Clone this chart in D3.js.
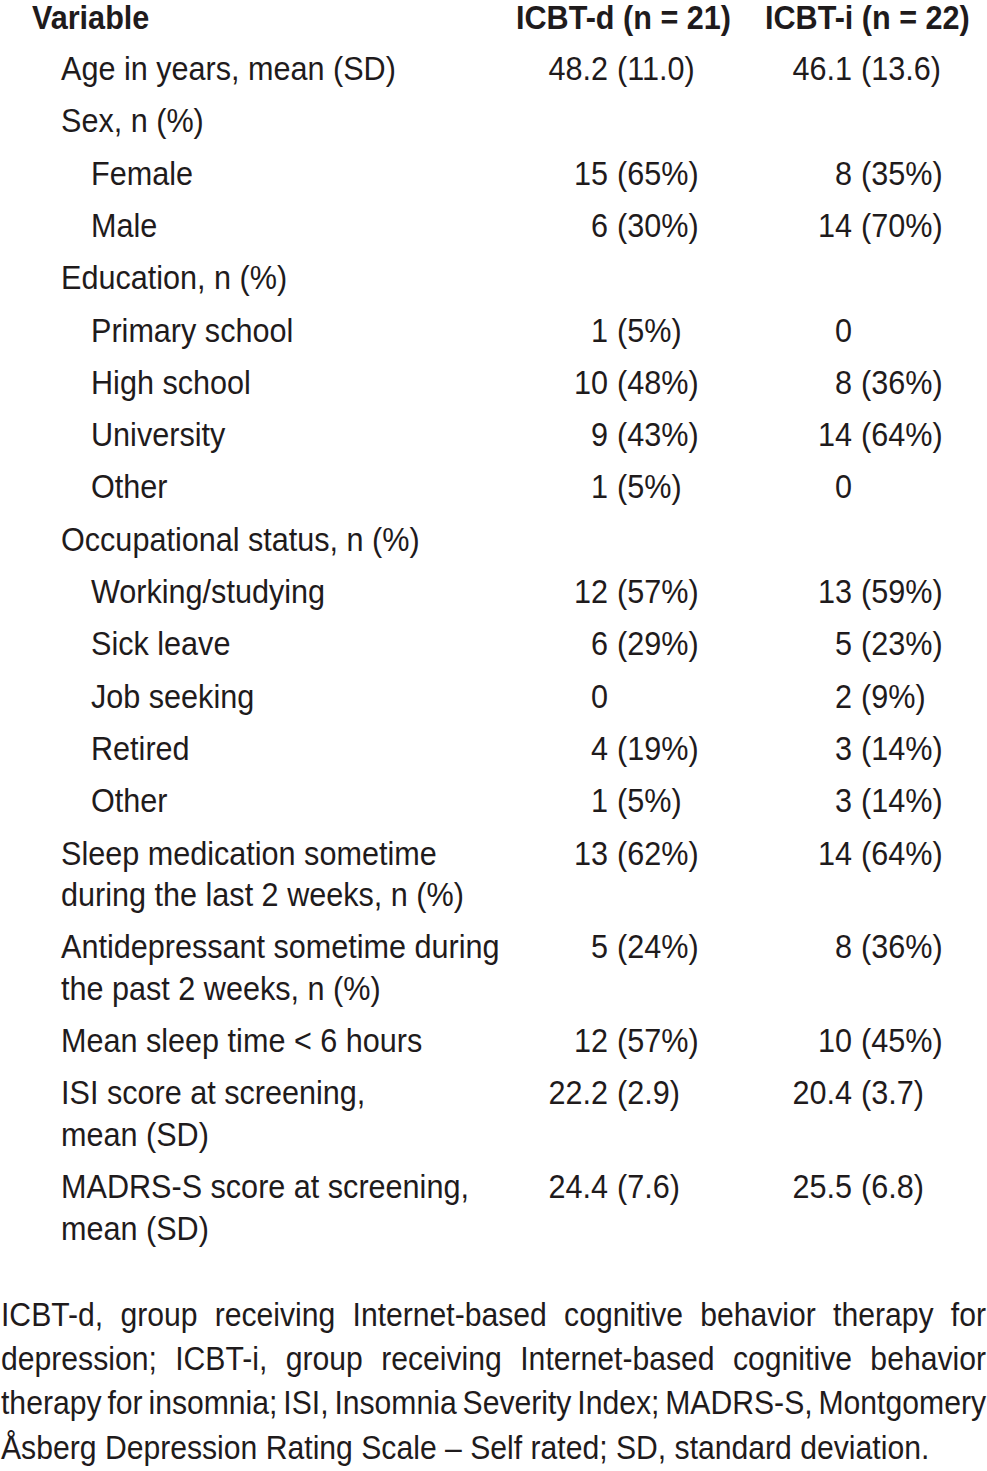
<!DOCTYPE html>
<html>
<head>
<meta charset="utf-8">
<script src="https://cdnjs.cloudflare.com/ajax/libs/d3/7.8.5/d3.min.js"></script>
<style>
  html, body { margin: 0; padding: 0; background: #fff; }
  svg { display: block; }
  text { font-family: "Liberation Sans", Arial, sans-serif; fill: #1f1b1c; }
</style>
</head>
<body>
<div id="table"></div>
<script>
// header
var headers = ['Variable', 'ICBT-d (n = 21)', 'ICBT-i (n = 22)']

// row labels (one entry per printed line) and indent level
var rowLabels = [
  ['Age in years, mean (SD)'],
  ['Sex, n (%)'],
  ['Female'],
  ['Male'],
  ['Education, n (%)'],
  ['Primary school'],
  ['High school'],
  ['University'],
  ['Other'],
  ['Occupational status, n (%)'],
  ['Working/studying'],
  ['Sick leave'],
  ['Job seeking'],
  ['Retired'],
  ['Other'],
  ['Sleep medication sometime', 'during the last 2 weeks, n (%)'],
  ['Antidepressant sometime during', 'the past 2 weeks, n (%)'],
  ['Mean sleep time < 6 hours'],
  ['ISI score at screening,', 'mean (SD)'],
  ['MADRS-S score at screening,', 'mean (SD)']
]
var rowLevels = [0, 0, 1, 1, 0, 1, 1, 1, 1, 0, 1, 1, 1, 1, 1, 0, 0, 0, 0, 0]

var icbtD = ['48.2 (11.0)', '', '15 (65%)', '6 (30%)', '', '1 (5%)', '10 (48%)', '9 (43%)', '1 (5%)', '',
  '12 (57%)', '6 (29%)', '0', '4 (19%)', '1 (5%)', '13 (62%)', '5 (24%)', '12 (57%)', '22.2 (2.9)', '24.4 (7.6)']
var icbtI = ['46.1 (13.6)', '', '8 (35%)', '14 (70%)', '', '0', '8 (36%)', '14 (64%)', '0', '',
  '13 (59%)', '5 (23%)', '2 (9%)', '3 (14%)', '3 (14%)', '14 (64%)', '8 (36%)', '10 (45%)', '20.4 (3.7)', '25.5 (6.8)']

var footLines = [
  'ICBT-d, group receiving Internet-based cognitive behavior therapy for',
  'depression; ICBT-i, group receiving Internet-based cognitive behavior',
  'therapy for insomnia; ISI, Insomnia Severity Index; MADRS-S, Montgomery',
  'Åsberg Depression Rating Scale – Self rated; SD, standard deviation.'
]

;(function (d3) {
  var W = 987, H = 1471
  var fontSize = 34, footSize = 33.5, sx = 0.9
  var rowStep = 52.3, lineStep = 41.5
  var headY = 29, firstY = 80
  var indent = [61, 91]
  // value columns: number right edge / bracket start
  var cols = [{ numEnd: 608, rest: 617 }, { numEnd: 852, rest: 861 }]

  var svg = d3.select('#table').append('svg')
    .attr('width', W).attr('height', H)
  svg.append('rect').attr('width', W).attr('height', H).attr('fill', '#fff')

  function put (g, str, x, y, anchor, size, weight) {
    return g.append('text')
      .attr('transform', 'translate(' + x + ',' + y + ') scale(' + sx + ',1)')
      .attr('text-anchor', anchor || 'start')
      .attr('font-size', size || fontSize)
      .attr('font-weight', weight || 'normal')
      .text(str)
  }

  // row baselines
  var rowY = []
  var y = firstY
  rowLabels.forEach(function (lines) {
    rowY.push(y)
    y += rowStep + (lines.length - 1) * lineStep
  })

  var head = svg.append('g').classed('header', true)
  put(head, headers[0], 32, headY, 'start', fontSize, 'bold')
  put(head, headers[1], 516, headY, 'start', fontSize, 'bold')
  put(head, headers[2], 765, headY, 'start', fontSize, 'bold')

  var body = svg.append('g').classed('body', true)
  rowLabels.forEach(function (lines, i) {
    lines.forEach(function (l, j) {
      put(body, l, indent[rowLevels[i]], rowY[i] + j * lineStep)
    })
    ;[icbtD[i], icbtI[i]].forEach(function (v, c) {
      if (!v) return
      var k = v.indexOf(' ')
      var num = k < 0 ? v : v.slice(0, k)
      var rest = k < 0 ? '' : v.slice(k + 1)
      put(body, num, cols[c].numEnd, rowY[i], 'end')
      if (rest) put(body, rest, cols[c].rest, rowY[i], 'start')
    })
  })

  // footnote, justified except last line
  var foot = svg.append('g').classed('footnote', true)
  var footY = 1326, footStep = 44.2, footLeft = 1, footRight = 986
  footLines.forEach(function (line, i) {
    var words = line.split(' ')
    var nodes = words.map(function (w) {
      return put(foot, w, 0, 0, 'start', footSize)
    })
    var widths = nodes.map(function (n) { return n.node().getComputedTextLength() * sx })
    var spaceW = footSize * 0.278 * sx
    var total = d3.sum(widths)
    var gap = i < footLines.length - 1 ? (footRight - footLeft - total) / (words.length - 1) : spaceW
    var x = footLeft
    nodes.forEach(function (n, k) {
      n.attr('transform', 'translate(' + x + ',' + (footY + i * footStep) + ') scale(' + sx + ',1)')
      x += widths[k] + gap
    })
  })
})(d3)
</script>
</body>
</html>
